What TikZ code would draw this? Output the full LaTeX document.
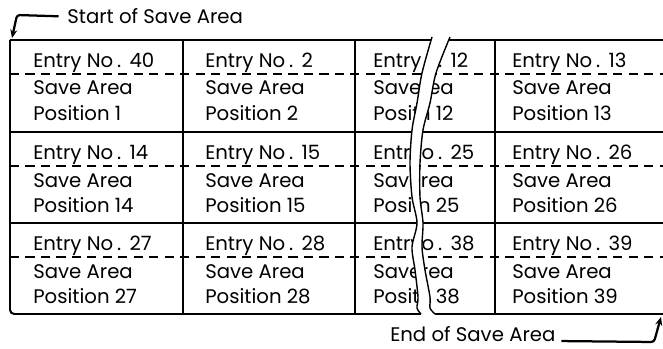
\documentclass[tikz,border=0pt]{standalone}
\usepackage{fontspec}
\setmainfont{Poppins}
\usetikzlibrary{arrows.meta}

\begin{document}
\begin{tikzpicture}[x=.025cm,y=-.025cm,font=\fontsize{14}{16}\selectfont,
  txt/.style={anchor=base west,inner sep=0},
  rule/.style={line width=1pt},
  dashline/.style={rule,dash pattern=on 6.5pt off 4.5pt},
  pointer/.style={line width=1.6pt,-{Stealth[length=6pt,width=5pt]},rounded corners=2},
  lwave/.style={insert path={-- plot[smooth] coordinates {(432,37) (422,73) (417,103) (412,130) (410,163) (412,197) (417,223) (412,247) (415,270) (418,297) (417,308) (421,314)}}},
  rwave/.style={insert path={-- plot[smooth] coordinates {(450,37) (436,73) (430,103) (423,130) (420,163) (420,197) (423,223) (422,247) (425,270) (430,297) (430,308) (435,314)}}}]
\useasboundingbox (0,0) rectangle (663,348);
% table
\draw[rule] (10,40)--(663,40) (10,132)--(663,132) (10,223)--(663,223);
\draw[rule,line width=1.4pt,rounded corners=3] (663,314)--(10,314)--(10,40);
\foreach \x in {183,355,495}{\draw[rule] (\x,40)--(\x,314);}
\foreach \y in {40,132,223}{\draw[dashline] (10,\y+34)--(663,\y+34);}
\foreach \n/\x/\y/\e/\p in {a1/33/40/40/1,b1/205/40/2/2,d1/512/40/13/13,
  a2/33/132/14/14,b2/205/132/15/15,d2/512/132/26/26,
  a3/33/223/27/27,b3/205/223/28/28,d3/512/223/39/39}{
\node[txt] (\n-e) at (\x,\y+27) {Entry No\kern.2em.\kern.15em\ \e};
\node[txt] (\n-s) at (\x,\y+55) {Save Area};
\node[txt] (\n-p) at (\x,\y+80) {Position \p};}
% torn column
\begin{scope}
\clip (350,30) -- (432,37) [lwave] -- (350,320) -- cycle;
\foreach \r/\y/\k in {1/40/12,2/132/25,3/223/38}{
\node[txt] (cl\r-e) at (373,\y+27) {Entry No\kern.2em.\kern.15em\ \k};
\node[txt] (cl\r-s) at (373,\y+55) {Save Area};
\node[txt] (cl\r-p) at (373,\y+80) {Position \k};}
\end{scope}
\begin{scope}
\clip (450,37) [rwave] -- (500,320) -- (500,30) -- cycle;
\foreach \r/\y/\k in {1/40/12,2/132/25,3/223/38}{
\node[txt] (cr\r-e) at (354,\y+27) {Entry No\kern.2em.\kern.15em\ \k};
\node[txt] (cr\r-s) at (354,\y+55) {Save Area};
\node[txt] (cr\r-p) at (354,\y+80) {Position \k};}
\end{scope}
\begin{scope}
\clip (432,37) [lwave] -- (421,330) -- (500,330) -- (500,20) -- (432,20) -- cycle;
\fill[white] (450,37) [rwave] -- (435,330) -- (350,330) -- (350,20) -- (450,20) -- cycle;
\end{scope}
\draw[rule] (432,37) [lwave]; \draw[rule] (450,37) [rwave];
% start and end
\node[txt] (start) at (67,24) {Start of Save Area};
\coordinate (sa) at (12,38);
\draw[pointer,shorten <=6pt] (start.west) -- (17,15) -- (sa);
\node[txt] (end) at (390,341) {End of Save Area};
\coordinate (ea) at (661,317);
\draw[pointer,shorten <=4pt] (end.base east) -- (654,342) -- (ea);
\end{tikzpicture}
\end{document}
